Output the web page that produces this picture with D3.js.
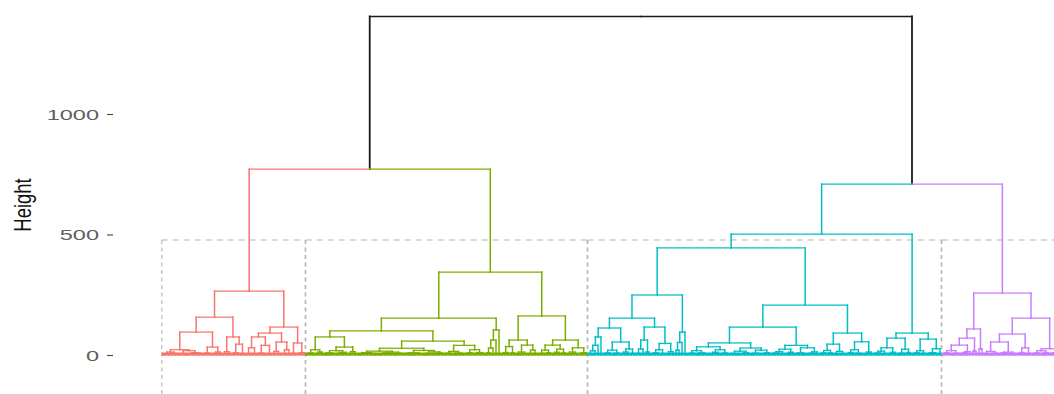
<!DOCTYPE html>
<html>
<head>
<meta charset="utf-8">
<script src="https://cdn.jsdelivr.net/npm/d3@7"></script>
<style>
  html, body { margin: 0; padding: 0; background: #ffffff; }
  svg { display: block; }
</style>
</head>
<body>
<svg id="chart" width="1054" height="394"></svg>
<script>
// Each cluster's subtree in bracket notation: "o" is one observation,
// "(a,b)h" joins two subtrees at height h.
const clusterNames = ["1", "2", "3", "4"];
const clusterColors = ["#F8766D", "#7CAE00", "#00BFC4", "#C77CFF"];

const treeCluster1 =
  "(((" +
    "((((o,o)2,o)4,(o,(o,o)3)6)12,((o,(o,o)2)5,((o,o)3,(o,(o,o)4)7)10)18)22" + "," +
    "((o,(o,o)3)8,((o,o)5,o)12)33" + ")95," +
    "(((o,o)4,o)14,(((o,o)3,o)9,(o,o)5)45)75" + ")157," +
  "((" +
    "(((o,o)3,(o,o)5)30,((o,(o,o)2)7,(o,o)4)40)75" + "," +
    "((o,(o,o)4)15,((o,o)3,o)22)54" + ")91," +
    "((o,o)6,((o,o)4,o)10)50" + ")116)265";

const treeCluster2 =
  "((((" +
    "(((o,o)3,o)8,((o,o)4,o)12)22" + "," +
    "((((o,o)2,(o,o)4)9,((o,(o,o)3)6,o)11)18,((o,o)5,o)14)33" + ")75," +
    "(((" +
      "(((o,o)2,o)5,((o,o)3,(o,o)2)6)10" + "," +
      "((((o,o)2,o)4,(o,o)3)8,((o,o)2,(o,o)5)7)12" + ")16,(" +
      "((o,(o,o)2)6,((o,o)3,o)4)9" + "," +
      "(((o,o)2,(o,o)3)6,((o,o)4,o)8)13" + ")19)28," +
      "((((o,o)3,o)7,((o,o)2,(o,o)4)8)15,(((o,o)5,o)9,((o,o)3,(o,o)6)10)22)40" +
    ")58)100," +
    "((((o,o)8,o)29,o)62,o)104" + ")153," +
  "(" +
    "((((o,o)4,o)10,(o,o)8)35,(((o,o)2,(o,o)5)12,((o,o)3,o)20)41)62" + ",(" +
    "((((o,o)3,o)6,(o,o)9)20,(((o,o)4,o)11,(o,o)8)24)41" + "," +
    "(((o,o)3,(o,o)5)12,((o,o)4,o)9)30" + ")62)162)344";

const treeCluster3 =
  "(((((" +
    "((((o,o)5,o)18,o)40,o)75" + "," +
    "((((o,o)3,o)8,((o,o)2,o)7)20,(((o,o)5,o)12,(o,o)6)25)54" + ")112,(" +
    "(((o,o)6,o)25,(o,o)12)62" + "," +
    "((((o,o)3,o)9,(o,o)5)22,((o,o)4,o)14)48" + ")116)153," +
    "(((o,o)20,o)52,o)95" + ")249," +
  "((((" +
    "(((o,o)3,o)7,((o,o)2,(o,o)5)9)18" + "," +
    "((((o,o)2,o)5,o)11,((o,o)4,o)8)22" + ")34,(" +
    "(((o,o)3,(o,o)2)6,((o,o)5,o)10)16" + "," +
    "(((o,o)2,(o,o)3)7,((o,o)4,o)9)20" + ")29)50,(" +
    "((((o,o)3,o)8,(o,o)5)14,((o,o)2,o)11)24" + "," +
    "(((o,o)4,(o,o)2)9,(((o,o)3,o)7,o)13)30" + ")40)116,(" +
    "((((o,o)3,o)8,(o,o)9)19,((o,o)2,(o,o)4)15)45" + "," +
    "((((o,o)4,o)10,(o,(o,o)3)7)22,((o,o)5,o)12)55" + ")91)207)444," +
  "(" +
    "(((((o,o)3,o)8,(o,o)5)16,((o,o)4,o)11)30,(((o,o)2,o)7,(o,o)10)24)70" + "," +
    "((((o,o)4,o)9,(o,o)6)18,(((o,o)3,(o,o)5)10,o)26)66" + ")91)502";

const treeCluster4 =
  "(((" +
    "((((o,o)3,o)9,((o,o)2,o)7)18,(((o,o)4,o)10,o)14)41" +
    ",(o,o)16)70,(o,o)25)108," +
  "((" +
    "(((o,o)4,((o,o)2,o)7)15,(((o,o)3,o)9,((o,o)5,o)6)12)54" + "," +
    "(((o,o)3,o)10,(o,o)6)30" + ")87," +
    "((((o,o)3,o)8,((o,o)2,o)10)18,(((o,o)4,o)9,(o,o)7)14)26" + ")153)257";

const clusterTrees = [treeCluster1, treeCluster2, treeCluster3, treeCluster4];
const pairJoinHeights = [771, 709];   // clusters 1+2, clusters 3+4
const rootHeight = 1405;
const cutHeight = 477;
const yTicks = [0, 500, 1000];
const yTickLabels = ["0", "500", "1000"];

// ---- parsing -------------------------------------------------------------
function parseTree(src) {
  const s = src.replace(/\s+/g, "");
  let i = 0;
  function read() {
    if (s[i] === "(") {
      i++;
      const children = [read()];
      while (s[i] === ",") { i++; children.push(read()); }
      if (s[i] !== ")") throw new Error("unbalanced tree near " + i);
      i++;
      const m = /^\d+(\.\d+)?/.exec(s.slice(i));
      if (!m) throw new Error("missing height near " + i);
      i += m[0].length;
      return { height: +m[0], children };
    }
    if (s[i] !== "o") throw new Error("unexpected token near " + i);
    i++;
    return { height: 0 };
  }
  const t = read();
  if (i !== s.length) throw new Error("trailing text in tree");
  return t;
}

const subtrees = clusterTrees.map((t, k) => Object.assign(parseTree(t), { cluster: k }));
const rootData = {
  height: rootHeight,
  children: [
    { height: pairJoinHeights[0], children: [subtrees[0], subtrees[1]] },
    { height: pairJoinHeights[1], children: [subtrees[2], subtrees[3]] }
  ]
};

const root = d3.hierarchy(rootData);
root.eachBefore(d => {
  d.cluster = d.data.cluster !== undefined ? d.data.cluster
            : (d.parent ? d.parent.cluster : undefined);
});

const leaves = root.leaves();
leaves.forEach((d, i) => { d.index = i; });

// ---- scales --------------------------------------------------------------
const svg = d3.select("#chart");
const x = d3.scaleLinear().domain([0, leaves.length - 1]).range([163, 1063]);
const y = d3.scaleLinear().domain([0, 1000]).range([355, 114]);

root.eachAfter(d => {
  d.x = d.children ? d3.mean(d.children, c => c.x) : x(d.index);
  d.y = y(d.data.height);
});

const colorOf = d => d.cluster === undefined ? "#1a1a1a" : clusterColors[d.cluster];

const clusterNodes = subtrees.map(t => root.descendants().find(d => d.data === t));

// ---- cut rectangles --------------------------------------------------------
const rectG = svg.append("g").attr("fill", "none").attr("stroke", "#b3b3b3").attr("stroke-width", 1.1);
clusterNodes.forEach(node => {
  const ls = node.leaves();
  const x0 = x(ls[0].index - 0.4), x1 = x(ls[ls.length - 1].index + 0.4);
  const yt = y(cutHeight), yb = y(-200);
  rectG.append("line").attr("x1", x0).attr("x2", x1).attr("y1", yt).attr("y2", yt)
    .attr("stroke-dasharray", "6,5");
  rectG.append("line").attr("x1", x0).attr("x2", x0).attr("y1", yt).attr("y2", yb)
    .attr("stroke-dasharray", "4,3.5");
  rectG.append("line").attr("x1", x1).attr("x2", x1).attr("y1", yt).attr("y2", yb)
    .attr("stroke-dasharray", "4,3.5");
});

// ---- dendrogram branches ---------------------------------------------------
const links = root.descendants().filter(d => d.parent);
const branchG = svg.append("g").attr("fill", "none").attr("stroke-linecap", "square");

// leaf tips of each cluster sit on the zero line
branchG.selectAll("line.tips").data(clusterNodes).join("line")
  .attr("class", "tips")
  .attr("x1", d => d.leaves()[0].x)
  .attr("x2", d => d.leaves()[d.leaves().length - 1].x)
  .attr("y1", y(0) - 1).attr("y2", y(0) - 1)
  .attr("stroke", d => clusterColors[d.cluster])
  .attr("stroke-width", 3.2);

// vertical drops from the parent's height to each child's height
branchG.selectAll("line.v").data(links).join("line")
  .attr("class", "v")
  .attr("x1", d => d.x).attr("x2", d => d.x)
  .attr("y1", d => d.y).attr("y2", d => d.parent.y)
  .attr("stroke", colorOf)
  .attr("stroke-width", d => d.cluster === undefined ? 1.8 : 1.5);

// horizontal half-bars joining each child to its parent
branchG.selectAll("line.h").data(links).join("line")
  .attr("class", "h")
  .attr("x1", d => d.x).attr("x2", d => d.parent.x)
  .attr("y1", d => d.parent.y).attr("y2", d => d.parent.y)
  .attr("stroke", colorOf)
  .attr("stroke-width", d => d.cluster === undefined ? 1.5 : 1.25);

// ---- y axis ----------------------------------------------------------------
const axisG = svg.append("g")
  .attr("transform", "translate(113,0)")
  .call(d3.axisLeft(y).tickValues(yTicks).tickSize(6).tickFormat((v, i) => yTickLabels[i]));
axisG.select(".domain").remove();
axisG.selectAll(".tick line").attr("stroke", "#444").attr("stroke-width", 1.1);
axisG.selectAll(".tick text")
  .attr("x", 0).attr("dy", null)
  .attr("dominant-baseline", "central")
  .attr("text-anchor", "end")
  .attr("transform", "translate(-14,0) scale(1.57,1)")
  .attr("fill", "#5e5e5e")
  .style("font-family", "'Liberation Sans', Arial, sans-serif")
  .style("font-size", "15px");

svg.append("text")
  .attr("transform", "translate(31,205) scale(1.28,1) rotate(-90)")
  .attr("text-anchor", "middle")
  .attr("fill", "#111")
  .style("font-family", "'Liberation Sans', Arial, sans-serif")
  .style("font-size", "18.5px")
  .text("Height");
</script>
</body>
</html>
